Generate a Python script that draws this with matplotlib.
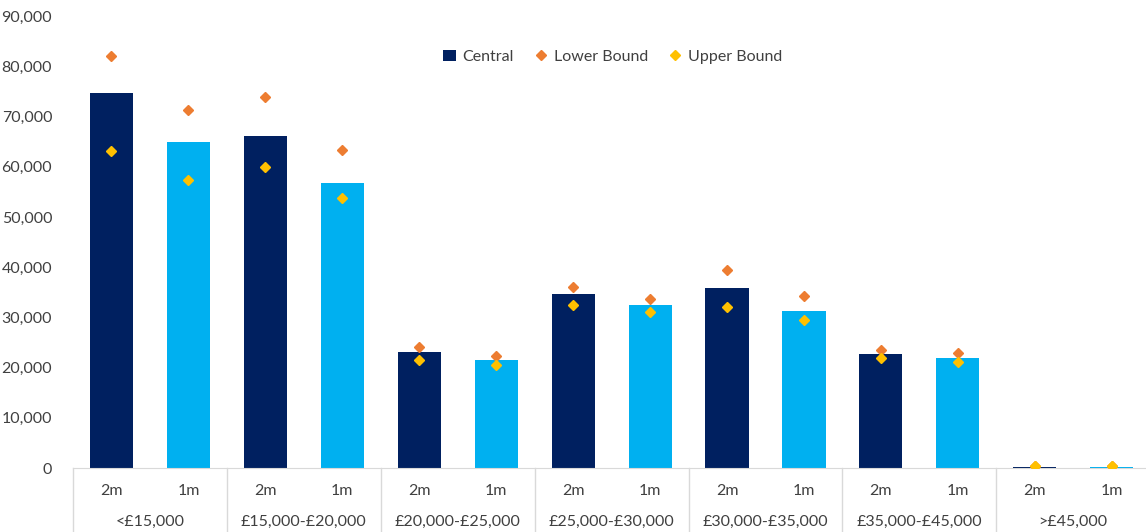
import numpy as np
import matplotlib.pyplot as plt
from matplotlib.patches import Patch
from matplotlib.lines import Line2D

plt.rcParams['font.family'] = ['Lato', 'DejaVu Sans']

groups = ['<£15,000', '£15,000-£20,000', '£20,000-£25,000', '£25,000-£30,000',
          '£30,000-£35,000', '£35,000-£45,000', '>£45,000']
distances = ['2m', '1m']

central = [74700, 64900, 66100, 56800, 23100, 21500, 34700, 32500,
           35900, 31300, 22700, 21900, 200, 200]
lower = [82100, 71300, 73900, 63300, 24100, 22300, 36100, 33700,
         39400, 34300, 23500, 22900, 300, 300]
upper = [63100, 57400, 60000, 53800, 21500, 20500, 32500, 31100,
         32100, 29500, 21900, 21100, 300, 300]

navy = '#002060'
sky = '#00B0F0'
orange = '#ED7D31'
gold = '#FFC000'
txt = '#404040'
fs = 11.5

fig = plt.figure(figsize=(11.46, 5.32), dpi=100)
ax = fig.add_axes([0.0637, 0.1203, 0.94, 0.8496])

x = np.arange(len(central))
colors = [navy if i % 2 == 0 else sky for i in x]
ax.bar(x, central, width=0.56, color=colors, zorder=2)
ax.plot(x, lower, 'D', color=orange, markersize=5.5, linestyle='none', zorder=3)
ax.plot(x, upper, 'D', color=gold, markersize=5.5, linestyle='none', zorder=3)

ax.set_xlim(-0.5, len(central) - 0.5)
ax.set_ylim(0, 90000)
ax.set_yticks(np.arange(0, 90001, 10000))
ax.set_yticklabels([f'{v:,}' for v in range(0, 90001, 10000)], fontsize=fs, color=txt)
ax.tick_params(axis='y', length=0, pad=15)
ax.tick_params(axis='x', length=0)
ax.set_xticks([])

for s in ['top', 'right', 'left']:
    ax.spines[s].set_visible(False)
ax.spines['bottom'].set_color('#D9D9D9')

# two-level category axis
trans = ax.get_xaxis_transform()
for i in x:
    ax.text(i, -0.05, distances[i % 2], transform=trans, ha='center', va='center',
            fontsize=fs, color=txt)
for g, name in enumerate(groups):
    ax.text(2 * g + 0.5, -0.12, name, transform=trans, ha='center', va='center',
            fontsize=fs, color=txt)
for b in np.arange(-0.5, len(central), 2):
    ax.plot([b, b], [0, -0.15], transform=trans, color='#D9D9D9', lw=1, clip_on=False)

handles = [Patch(facecolor=navy, label='Central'),
           Line2D([], [], marker='D', color=orange, linestyle='none', markersize=5.5, label='Lower Bound'),
           Line2D([], [], marker='D', color=gold, linestyle='none', markersize=5.5, label='Upper Bound')]
leg = ax.legend(handles=handles, loc='upper center', bbox_to_anchor=(0.501, 0.957), ncol=3,
                frameon=False, fontsize=fs, handlelength=0.8, handletextpad=0.4,
                columnspacing=1.3)
for t in leg.get_texts():
    t.set_color(txt)

fig.savefig('out.png', dpi=100)
